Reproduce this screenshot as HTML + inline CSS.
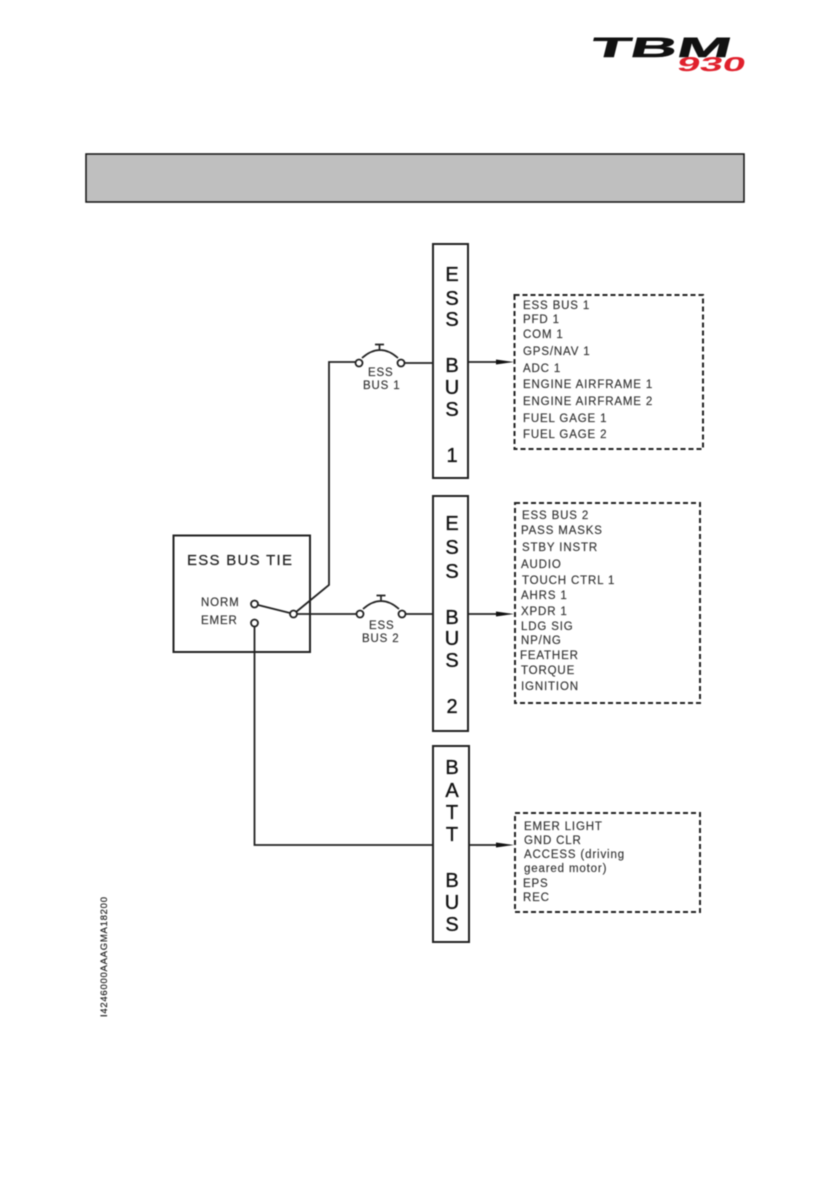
<!DOCTYPE html>
<html><head><meta charset="utf-8"><style>
html,body{margin:0;padding:0;background:#fff}
svg{display:block;filter:blur(.55px)}
text{font-family:"Liberation Sans",sans-serif}
.l text{font-size:11.5px;fill:#333;letter-spacing:.85px;stroke:#333;stroke-width:.15px}
.b text{font-size:20px;fill:#111;text-anchor:middle;stroke:#111;stroke-width:.35px}
.s{fill:none;stroke:#222;stroke-width:2}
.d{fill:none;stroke:#222;stroke-width:2;stroke-dasharray:5 3}
.c{fill:#fff;stroke:#222;stroke-width:1.8}
</style></head><body>
<svg width="827" height="1202" viewBox="0 0 827 1202" xmlns="http://www.w3.org/2000/svg">
<rect x="86" y="154" width="658" height="48" fill="#bfbfbf" stroke="#111" stroke-width="1.500"/>
<g transform="translate(594,57) skewX(-14)"><text x="-5" y="0" font-size="28" font-weight="700" fill="#111" stroke="#111" stroke-width=".5" textLength="140" lengthAdjust="spacingAndGlyphs">TBM</text></g>
<g transform="translate(676,71) skewX(-14)"><text x="0" y="0" font-size="20" font-weight="700" fill="#e0202c" textLength="68" lengthAdjust="spacingAndGlyphs">930</text></g>

<rect class="s" x="173.500" y="535.500" width="136.500" height="116.500"/>
<rect class="s" x="433" y="244" width="35" height="234" fill="#fff"/>
<rect class="s" x="433" y="496" width="35" height="235" fill="#fff"/>
<rect class="s" x="433" y="746" width="36" height="196" fill="#fff"/>

<path class="s" d="M296 612L329 585V362H356M404 363H433M296 614H357M405 614H433M254.500 627V845H433" style="stroke-width:1.8"/>
<path class="s" d="M258 605L290 613" style="stroke-width:1.8"/>
<path class="s" d="M468 362H500M468 614H500M469 845H500" style="stroke-width:1.8"/>
<path d="M496 359.500L514 362L496 364.500ZM496 611.500L514 614L496 616.500ZM496 842.500L514 845L496 847.500Z" fill="#111"/>

<path class="s" d="M362 358Q380 342 398 358M379.500 351V345M375 344.500H384" style="stroke-width:1.700"/>
<path class="s" d="M363 609Q381 593 399 609M381 602V596M376.500 595.500H385.500" style="stroke-width:1.700"/>
<circle class="c" cx="359" cy="363" r="3.500"/><circle class="c" cx="401" cy="363" r="3.500"/>
<circle class="c" cx="360" cy="614" r="3.500"/><circle class="c" cx="402" cy="614" r="3.500"/>
<circle class="c" cx="254.500" cy="604" r="3.500"/><circle class="c" cx="254.500" cy="623" r="3.500"/><circle class="c" cx="293.500" cy="614" r="3.500"/>

<rect class="d" x="514.500" y="295" width="188.500" height="154"/>
<rect class="d" x="515" y="503" width="185" height="200"/>
<rect class="d" x="515" y="813" width="185" height="99"/>

<text x="187" y="565" font-size="15" fill="#222" stroke="#222" stroke-width=".2" textLength="105">ESS BUS TIE</text>
<g class="l">
<text x="201" y="606">NORM</text><text x="201" y="624">EMER</text>
<text x="368" y="376">ESS</text><text x="363" y="389">BUS 1</text>
<text x="369" y="629">ESS</text><text x="362" y="642">BUS 2</text>

<text x="523" y="309">ESS BUS 1</text><text x="523" y="323">PFD 1</text><text x="523" y="338">COM 1</text>
<text x="523" y="355">GPS/NAV 1</text><text x="523" y="372">ADC 1</text><text x="523" y="388">ENGINE AIRFRAME 1</text>
<text x="523" y="405">ENGINE AIRFRAME 2</text><text x="523" y="422">FUEL GAGE 1</text><text x="523" y="438">FUEL GAGE 2</text>

<text x="522" y="519">ESS BUS 2</text><text x="521" y="534">PASS MASKS</text><text x="522" y="551">STBY INSTR</text>
<text x="521" y="568">AUDIO</text><text x="522" y="584">TOUCH CTRL 1</text><text x="521" y="599">AHRS 1</text>
<text x="521" y="615">XPDR 1</text><text x="521" y="630">LDG SIG</text><text x="521" y="644">NP/NG</text>
<text x="520" y="659">FEATHER</text><text x="521" y="674">TORQUE</text><text x="521" y="690">IGNITION</text>

<text x="524" y="830">EMER LIGHT</text><text x="524" y="844">GND CLR</text><text x="524" y="858">ACCESS (driving</text>
<text x="524" y="872">geared motor)</text><text x="523" y="887">EPS</text><text x="523" y="901">REC</text>
</g>
<g class="b">
<text x="452" y="281">E</text><text x="452" y="305">S</text><text x="452" y="326">S</text><text x="452" y="372">B</text><text x="452" y="394">U</text><text x="452" y="416">S</text><text x="452" y="462">1</text>
<text x="452" y="530">E</text><text x="452" y="554">S</text><text x="452" y="578">S</text><text x="452" y="624">B</text><text x="452" y="645">U</text><text x="452" y="667">S</text><text x="452" y="713">2</text>
<text x="452" y="774">B</text><text x="452" y="797">A</text><text x="452" y="819">T</text><text x="452" y="841">T</text><text x="452" y="887">B</text><text x="452" y="909">U</text><text x="452" y="931">S</text>
</g>
<text transform="translate(107,1017) rotate(-90)" font-size="9.500" fill="#222" stroke="#222" stroke-width=".2" textLength="120">I4246000AAAGMA18200</text>
</svg>
</body></html>
